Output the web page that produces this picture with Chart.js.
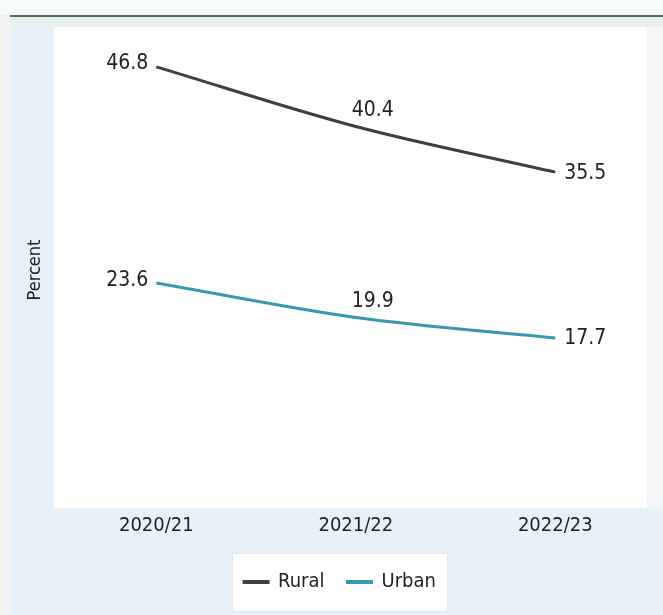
<!DOCTYPE html>
<html>
<head>
<meta charset="utf-8">
<script src="https://cdn.jsdelivr.net/npm/chart.js@4.4.0/dist/chart.umd.min.js"></script>
<style>
  html, body { margin: 0; padding: 0; background: #e8f0f8; }
  #wrap { width: 663px; height: 615px; position: relative; }
</style>
</head>
<body>
<div id="wrap"><canvas id="chart" width="663" height="615"></canvas></div>
<script>
// Данные графика
const years = ["2020/21", "2021/22", "2022/23"];
const rural = [46.8, 40.4, 35.5];
const urban = [23.6, 19.9, 17.7];
const seriesNames = ["Rural", "Urban"];
const seriesColors = ["#3f3f3f", "#3a96b4"];

const FONT = "'Liberation Sans Narrow', 'DejaVu Sans Condensed', 'Arial Narrow', sans-serif";

// Фон: полосы, линия сверху, белая область графика
const backgroundPlugin = {
    id: "background",
    beforeDraw(chart) {
        const ctx = chart.ctx;
        const a = chart.chartArea;
        ctx.save();
        ctx.fillStyle = "#e8f0f8";
        ctx.fillRect(0, 0, chart.width, chart.height);
        ctx.fillStyle = "#f1f2f3";
        ctx.fillRect(0, 0, 10, chart.height);
        ctx.fillStyle = "#f8fbfb";
        ctx.fillRect(0, 0, chart.width, 15);
        ctx.fillStyle = "#e7f2ef";
        ctx.fillRect(10, 17, chart.width - 10, 10);
        ctx.fillStyle = "#f3f5f6";
        ctx.fillRect(a.right - 8, 27, chart.width - a.right + 8, a.bottom + 5 - 27);
        ctx.fillStyle = "#ffffff";
        ctx.fillRect(a.left - 3, 27, a.right - 8 - (a.left - 3), a.bottom + 5 - 27);
        ctx.fillStyle = "#5a6a64";
        ctx.fillRect(10, 15, chart.width - 10, 2);

        // белая рамка легенды
        const lg = chart.legend;
        if (lg && lg.legendHitBoxes && lg.legendHitBoxes.length) {
            const hb = lg.legendHitBoxes;
            const x0 = hb[0].left - 12;
            const x1 = hb[hb.length - 1].left + hb[hb.length - 1].width + 12;
            const cy = hb[0].top + hb[0].height / 2;
            ctx.fillStyle = "#ffffff";
            ctx.fillRect(x0, cy - 29, x1 - x0, 59);
            ctx.strokeStyle = "#e2e8ec";
            ctx.lineWidth = 1;
            ctx.strokeRect(x0 + 0.5, cy - 28.5, x1 - x0 - 1, 58);
        }
        ctx.restore();
    }
};

// Подписи значений у точек
const valueLabelsPlugin = {
    id: "valueLabels",
    afterDatasetsDraw(chart) {
        const ctx = chart.ctx;
        ctx.save();
        ctx.font = "21px " + FONT;
        ctx.fillStyle = "#222222";
        ctx.textBaseline = "middle";
        chart.data.datasets.forEach((ds, di) => {
            const meta = chart.getDatasetMeta(di);
            meta.data.forEach((pt, i) => {
                const txt = ds.data[i].toFixed(1);
                if (i === 0) {
                    ctx.textAlign = "right";
                    ctx.fillText(txt, pt.x - 8, pt.y - 3);
                } else if (i === ds.data.length - 1) {
                    ctx.textAlign = "left";
                    ctx.fillText(txt, pt.x + 9, pt.y + 1);
                } else {
                    ctx.textAlign = "center";
                    ctx.fillText(txt, pt.x + 17, pt.y - 16);
                }
            });
        });
        ctx.restore();
    }
};

new Chart(document.getElementById("chart"), {
    type: "line",
    data: {
        labels: years,
        datasets: [
            {
                label: seriesNames[0],
                data: rural,
                borderColor: seriesColors[0],
                backgroundColor: seriesColors[0],
                borderWidth: 3,
                pointRadius: 0,
                cubicInterpolationMode: "monotone"
            },
            {
                label: seriesNames[1],
                data: urban,
                borderColor: seriesColors[1],
                backgroundColor: seriesColors[1],
                borderWidth: 3,
                pointRadius: 0,
                cubicInterpolationMode: "monotone"
            }
        ]
    },
    options: {
        responsive: false,
        animation: false,
        layout: { padding: { left: 25, right: 8, top: 37, bottom: 13 } },
        scales: {
            x: {
                offset: true,
                grid: { display: false, drawTicks: false },
                border: { display: false },
                ticks: { padding: 11, color: "#222222", font: { family: FONT, size: 20 } }
            },
            y: {
                min: 0,
                max: 50,
                grid: { display: false, drawTicks: false },
                border: { display: false },
                ticks: { display: false },
                title: {
                    display: true,
                    text: "Percent",
                    color: "#222222",
                    padding: { top: 0, bottom: 10 },
                    font: { family: FONT, size: 18 }
                }
            }
        },
        plugins: {
            legend: {
                position: "bottom",
                labels: {
                    boxWidth: 24,
                    boxHeight: 1,
                    padding: 23,
                    color: "#222222",
                    font: { family: FONT, size: 20 }
                }
            },
            tooltip: { enabled: false }
        }
    },
    plugins: [backgroundPlugin, valueLabelsPlugin]
});
</script>
</body>
</html>
